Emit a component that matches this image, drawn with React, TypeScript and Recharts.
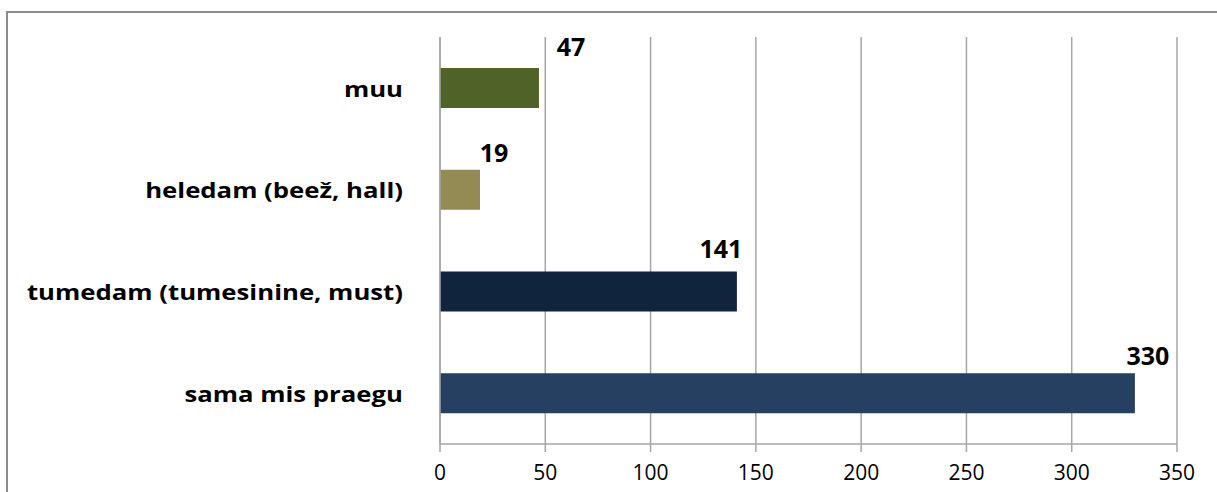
import { BarChart, Bar, XAxis, YAxis, CartesianGrid, Cell, LabelList } from "recharts";

const categories = ["muu", "heledam (beež, hall)", "tumedam (tumesinine, must)", "sama mis praegu"];
const counts = [47, 19, 141, 330];
const barColors = ["#4F6228", "#948A54", "#10243E", "#254061"];
const xTicks = [0, 50, 100, 150, 200, 250, 300, 350];
const edgeTicks = [0, 1, 2, 3, 4];

// the value labels were nudged by hand in the original, so keep that here
const labelDx = [32, 14, -16, 13];
const labelDy = [22, 18, 24, 18];

const data = categories.map((name, i) => ({ name, value: counts[i] }));

const FONT = "'Open Sans', 'DejaVu Sans', sans-serif";

const ValueLabel = (props: any) => {
  const { x, y, width, value, index } = props;
  return (
    <text
      x={x + width + labelDx[index]}
      y={y - labelDy[index]}
      textAnchor="middle"
      dominantBaseline="central"
      fontFamily={FONT}
      fontWeight="bold"
      fontSize={25}
      fill="#000"
    >
      {value}
    </text>
  );
};

// source text is a bit wider than Open Sans, stretch it sideways
const CategoryTick = (props: any) => {
  const { x, y, payload } = props;
  return (
    <g transform={`translate(${x},${y}) scale(1.17,1)`}>
      <text
        x={0}
        y={0}
        textAnchor="end"
        dominantBaseline="central"
        fontFamily={FONT}
        fontWeight="bold"
        fontSize={22}
        fill="#000"
      >
        {payload.value}
      </text>
    </g>
  );
};

const App: React.FC = () => {
  return (
    <div style={{ position: "absolute", left: 0, top: 0, width: 1217, height: 492, background: "#fff", overflow: "hidden" }}>
      <div
        style={{
          position: "absolute",
          left: 6,
          top: 11,
          width: 1300,
          height: 600,
          borderTop: "2px solid #8c8c8c",
          borderLeft: "2px solid #8c8c8c",
        }}
      />
      <div style={{ position: "absolute", left: 0, top: 0 }}>
        <BarChart
          width={1217}
          height={492}
          data={data}
          layout="vertical"
          margin={{ top: 37, right: 40, bottom: 0, left: 0 }}
        >
          <CartesianGrid horizontal={false} stroke="#a6a6a6" strokeWidth={1.5} />
          <XAxis
            type="number"
            domain={[0, 350]}
            ticks={xTicks}
            interval={0}
            height={48}
            stroke="#a6a6a6"
            strokeWidth={1.5}
            tickSize={8}
            tickMargin={13}
            tick={{ fontFamily: FONT, fontSize: 21, fill: "#000" }}
          />
          <YAxis
            yAxisId="edge"
            type="number"
            domain={[0, 4]}
            ticks={edgeTicks}
            width={0}
            tickSize={10}
            tick={false}
            axisLine={false}
            stroke="#a6a6a6"
            strokeWidth={1.5}
          />
          <YAxis
            yAxisId="cat"
            type="category"
            dataKey="name"
            width={440}
            stroke="#a6a6a6"
            strokeWidth={1.5}
            tickLine={false}
            tickSize={10}
            tickMargin={27}
            tick={<CategoryTick />}
          />
          <Bar dataKey="value" yAxisId="cat" barSize={40} isAnimationActive={false}>
            {data.map((d, i) => (
              <Cell key={d.name} fill={barColors[i]} />
            ))}
            <LabelList dataKey="value" content={<ValueLabel />} />
          </Bar>
        </BarChart>
      </div>
    </div>
  );
};

export default App;
